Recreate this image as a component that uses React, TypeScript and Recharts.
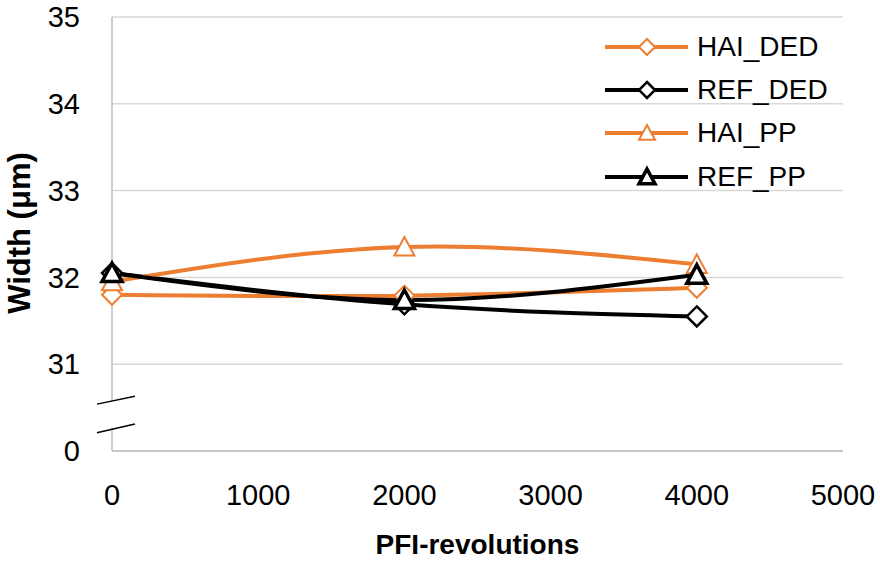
import React from 'react';
import { LineChart, Line, XAxis, YAxis, CartesianGrid, ReferenceLine, Legend } from 'recharts';

// ---- data ----
const revolutions = [0, 2000, 4000];
const haiDed = [31.8, 31.79, 31.88];
const refDed = [32.05, 31.69, 31.55];
const haiPp = [31.95, 32.35, 32.15];
const refPp = [32.05, 31.74, 32.03];
const seriesNames = ['HAI_DED', 'REF_DED', 'HAI_PP', 'REF_PP'];
const xTicks = [0, 1000, 2000, 3000, 4000, 5000];
const yTicks = [30, 31, 32, 33, 34, 35];
const yTickLabels = ['0', '31', '32', '33', '34', '35'];

const seriesValues = [haiDed, refDed, haiPp, refPp];
const data = revolutions.map((x, i) => {
  const row: any = { x };
  seriesNames.forEach((n, k) => (row[n] = seriesValues[k][i]));
  return row;
});

// ---- styles ----
const ORANGE = '#ED7D31';
const BLACK = '#000000';
const FONT = '"Liberation Sans", Arial, sans-serif';
const seriesStyle: Record<string, { color: string; shape: 'diamond' | 'triangle'; msw: number }> = {
  HAI_DED: { color: ORANGE, shape: 'diamond', msw: 2 },
  REF_DED: { color: BLACK, shape: 'diamond', msw: 2.5 },
  HAI_PP: { color: ORANGE, shape: 'triangle', msw: 2 },
  REF_PP: { color: BLACK, shape: 'triangle', msw: 3.5 },
};

function markerPath(shape: string, cx: number, cy: number, r: number) {
  if (shape === 'diamond') {
    return `M${cx},${cy - r}L${cx + r},${cy}L${cx},${cy + r}L${cx - r},${cy}Z`;
  }
  return `M${cx},${cy - r}L${cx + r},${cy + r * 0.85}L${cx - r},${cy + r * 0.85}Z`;
}

const makeDot = (name: string) => (p: any) => {
  const st = seriesStyle[name];
  if (p.cx == null || p.cy == null) return <g key={`${name}-${p.index}`} />;
  return (
    <path
      key={`${name}-${p.index}`}
      d={markerPath(st.shape, p.cx, p.cy, 10)}
      fill="#fff"
      stroke={st.color}
      strokeWidth={st.msw}
      strokeLinejoin="miter"
    />
  );
};

const LegendContent = () => (
  <div style={{ fontFamily: FONT }}>
    {seriesNames.map((n) => {
      const st = seriesStyle[n];
      return (
        <div key={n} style={{ display: 'flex', alignItems: 'center', height: 43.3 }}>
          <svg width={97} height={30} style={{ display: 'block' }}>
            <line x1={5} x2={88} y1={15} y2={15} stroke={st.color} strokeWidth={4} />
            <path d={markerPath(st.shape, 47, 15, 8)} fill="#fff" stroke={st.color} strokeWidth={st.msw} />
          </svg>
          <span style={{ fontSize: 28, color: '#000', lineHeight: '30px' }}>{n}</span>
        </div>
      );
    })}
  </div>
);

const YTitle = (props: any) => {
  const vb = props.viewBox || { x: 0, y: 17, width: 112, height: 434 };
  const cx = 19;
  const cy = vb.y + vb.height / 2 - 1;
  return (
    <text
      x={cx}
      y={cy}
      transform={`rotate(-90, ${cx}, ${cy})`}
      textAnchor="middle"
      dominantBaseline="central"
      fontFamily={FONT}
      fontWeight="bold"
      fontSize={31}
      fill="#000"
    >
      Width (μm)
    </text>
  );
};

const XTitle = (props: any) => {
  const vb = props.viewBox || { x: 112, y: 451, width: 731, height: 110 };
  return (
    <text
      x={vb.x + vb.width / 2}
      y={vb.y + 103}
      textAnchor="middle"
      fontFamily={FONT}
      fontWeight="bold"
      fontSize={28}
      fill="#000"
    >
      PFI-revolutions
    </text>
  );
};

export default function App() {
  return (
    <div style={{ position: 'absolute', left: 0, top: 0, width: 880, height: 561, background: '#fff' }}>
      <LineChart width={880} height={561} data={data} margin={{ top: 17, right: 37, bottom: 0, left: 0 }}>
        <CartesianGrid horizontal vertical={false} stroke="#d9d9d9" strokeWidth={1.5} />
        <XAxis
          dataKey="x"
          type="number"
          domain={[0, 5000]}
          ticks={xTicks}
          height={110}
          tickLine={false}
          tickMargin={27}
          axisLine={{ stroke: '#bfbfbf', strokeWidth: 1.5 }}
          tick={{ fontFamily: FONT, fontSize: 29, fill: '#000' }}
          label={<XTitle />}
        />
        <YAxis
          type="number"
          domain={[30, 35]}
          ticks={yTicks}
          width={112}
          tickLine={false}
          axisLine={false}
          tickMargin={26}
          interval={0}
          allowDataOverflow
          tickFormatter={(v: number) => yTickLabels[yTicks.indexOf(v)]}
          tick={{ fontFamily: FONT, fontSize: 29, fill: '#000' }}
          label={<YTitle />}
        />
        {/* broken y axis line */}
        <ReferenceLine segment={[{ x: 0, y: 30 }, { x: 0, y: 30.27 }]} stroke="#bfbfbf" strokeWidth={1.5} ifOverflow="visible" />
        <ReferenceLine segment={[{ x: 0, y: 30.57 }, { x: 0, y: 35 }]} stroke="#bfbfbf" strokeWidth={1.5} ifOverflow="visible" />
        {/* break marks */}
        <ReferenceLine segment={[{ x: -103, y: 30.54 }, { x: 157, y: 30.63 }]} stroke="#000" strokeWidth={1.5} ifOverflow="visible" />
        <ReferenceLine segment={[{ x: -103, y: 30.21 }, { x: 157, y: 30.31 }]} stroke="#000" strokeWidth={1.5} ifOverflow="visible" />
        {seriesNames.map((n) => (
          <Line
            key={n}
            type="natural"
            dataKey={n}
            stroke={seriesStyle[n].color}
            strokeWidth={4}
            dot={makeDot(n)}
            activeDot={false}
            isAnimationActive={false}
          />
        ))}
        <Legend
          layout="vertical"
          align="center"
          verticalAlign="middle"
          content={<LegendContent />}
          wrapperStyle={{ left: 600, top: 25, width: 270, height: 180 }}
        />
      </LineChart>
    </div>
  );
}
